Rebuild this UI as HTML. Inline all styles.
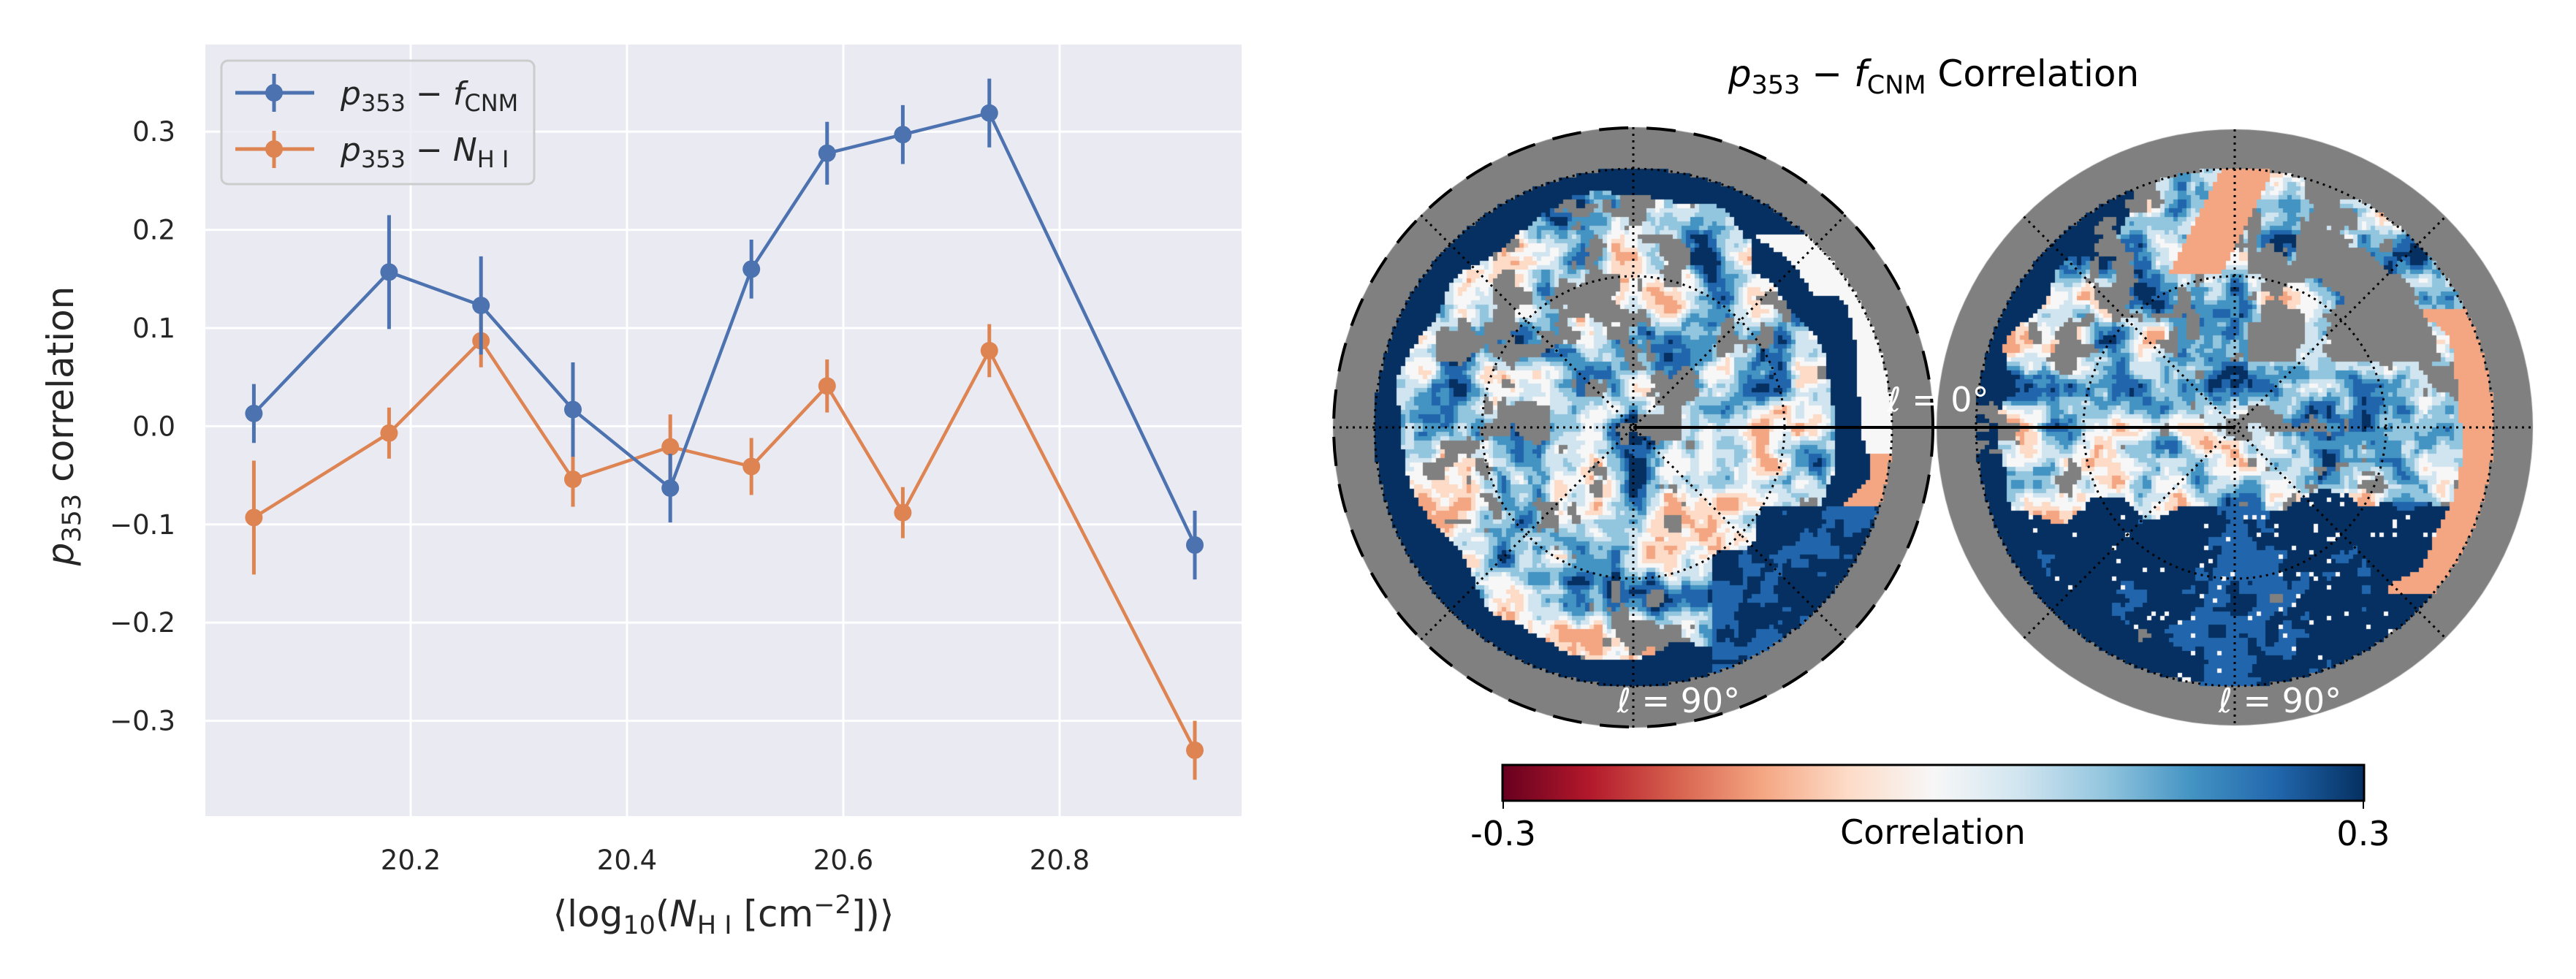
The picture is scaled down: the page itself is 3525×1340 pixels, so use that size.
<!DOCTYPE html>
<html><head><meta charset="utf-8">
<style>
html,body{margin:0;padding:0;background:#fff;}
#wrap{position:relative;width:3525px;height:1340px;overflow:hidden;background:#fff;}
#maps{position:absolute;left:0;top:0;}
#main{position:absolute;left:0;top:0;}
text{font-family:"DejaVu Sans","Liberation Sans",sans-serif;}
</style></head>
<body>
<div id="wrap">
<canvas id="maps" width="3525" height="1340"></canvas>
<svg id="main" width="3525" height="1340" xmlns="http://www.w3.org/2000/svg">
  <rect x="281" y="61" width="1418" height="1056" fill="#eaeaf2"/>
  <g id="grid"></g>
  <g id="ticks"></g>
  <g id="series"></g>
  <g>
    <rect x="303" y="83" width="428" height="169" rx="9" fill="#eaeaf2" fill-opacity="0.8" stroke="#cccccc" stroke-width="3"/>
    <g>
      <line x1="322" y1="127" x2="430" y2="127" stroke="#4c72b0" stroke-width="5"/>
      <line x1="375" y1="101" x2="375" y2="153" stroke="#4c72b0" stroke-width="5"/>
      <circle cx="375" cy="127" r="12" fill="#4c72b0"/>
      <text x="466" y="143" font-size="44" fill="#262626"><tspan font-style="italic">p</tspan><tspan font-size="32" dy="9">353</tspan><tspan dy="-9"> − </tspan><tspan font-style="italic">f</tspan><tspan font-size="32" dy="9">CNM</tspan></text>
    </g>
    <g>
      <line x1="322" y1="204" x2="430" y2="204" stroke="#dd8452" stroke-width="5"/>
      <line x1="375" y1="179" x2="375" y2="230" stroke="#dd8452" stroke-width="5"/>
      <circle cx="375" cy="204" r="12" fill="#dd8452"/>
      <text x="466" y="220" font-size="44" fill="#262626"><tspan font-style="italic">p</tspan><tspan font-size="32" dy="9">353</tspan><tspan dy="-9"> − </tspan><tspan font-style="italic">N</tspan><tspan font-size="32" dy="9">H I</tspan></text>
    </g>
  </g>
  <text x="990" y="1268" font-size="50" text-anchor="middle" fill="#262626">⟨log<tspan font-size="35" dy="10">10</tspan><tspan dy="-10">(</tspan><tspan font-style="italic">N</tspan><tspan font-size="35" dy="10">H I</tspan><tspan dy="-10"> [cm</tspan><tspan font-size="35" dy="-18">−2</tspan><tspan dy="18">])⟩</tspan></text>
  <text transform="translate(100,583) rotate(-90)" font-size="50" text-anchor="middle" fill="#262626"><tspan font-style="italic">p</tspan><tspan font-size="35" dy="10">353</tspan><tspan dy="-10"> correlation</tspan></text>

  <text x="2646" y="118" font-size="50" text-anchor="middle" fill="#000"><tspan font-style="italic">p</tspan><tspan font-size="35" dy="10">353</tspan><tspan dy="-10"> − </tspan><tspan font-style="italic">f</tspan><tspan font-size="35" dy="10">CNM</tspan><tspan dy="-10"> Correlation</tspan></text>
  <g id="overlay"></g>
  <defs>
    <linearGradient id="rdbu" x1="0" x2="1" y1="0" y2="0">
      <stop offset="0" stop-color="#67001f"/><stop offset="0.1" stop-color="#b2182b"/>
      <stop offset="0.2" stop-color="#d6604d"/><stop offset="0.3" stop-color="#f4a582"/>
      <stop offset="0.4" stop-color="#fddbc7"/><stop offset="0.5" stop-color="#f7f7f7"/>
      <stop offset="0.6" stop-color="#d1e5f0"/><stop offset="0.7" stop-color="#92c5de"/>
      <stop offset="0.8" stop-color="#4393c3"/><stop offset="0.9" stop-color="#2166ac"/>
      <stop offset="1" stop-color="#053061"/>
    </linearGradient>
  </defs>
  <rect x="2056" y="1047" width="1179" height="49" fill="url(#rdbu)" stroke="#000" stroke-width="3"/>
  <line x1="2057" y1="1096" x2="2057" y2="1107" stroke="#000" stroke-width="2"/>
  <line x1="3234" y1="1096" x2="3234" y2="1107" stroke="#000" stroke-width="2"/>
  <text x="2057" y="1157" font-size="46" text-anchor="middle">-0.3</text>
  <text x="3234" y="1157" font-size="46" text-anchor="middle">0.3</text>
  <text x="2645" y="1155" font-size="46" text-anchor="middle">Correlation</text>
</svg>
</div>
<script>
// ---- chart data ----
const xVals = [20.055, 20.18, 20.265, 20.35, 20.44, 20.515, 20.585, 20.655, 20.735, 20.925];
const fcnmVals = [0.013, 0.157, 0.123, 0.017, -0.063, 0.16, 0.278, 0.297, 0.319, -0.121];
const fcnmErr = [0.03, 0.058, 0.05, 0.048, 0.035, 0.03, 0.032, 0.03, 0.035, 0.035];
const nhiVals = [-0.093, -0.007, 0.087, -0.054, -0.021, -0.041, 0.041, -0.088, 0.077, -0.33];
const nhiErr = [0.058, 0.026, 0.027, 0.028, 0.033, 0.029, 0.027, 0.026, 0.027, 0.03];
const xTicks = [20.2, 20.4, 20.6, 20.8];
const xTickLabels = ["20.2", "20.4", "20.6", "20.8"];
const yTicks = [-0.3, -0.2, -0.1, 0.0, 0.1, 0.2, 0.3];
const yTickLabels = ["−0.3", "−0.2", "−0.1", "0.0", "0.1", "0.2", "0.3"];

const NS = "http://www.w3.org/2000/svg";
function X(v){ return 562 + (v - 20.2) * 1480; }
function Y(v){ return 583.4 - v * 1344; }
function mk(tag, attrs, parent){ const e = document.createElementNS(NS, tag); for (const k in attrs) e.setAttribute(k, attrs[k]); parent.appendChild(e); return e; }

const grid = document.getElementById('grid'), ticks = document.getElementById('ticks'), series = document.getElementById('series');
xTicks.forEach((t, i) => {
  const l = mk('line', {x1: X(t), x2: X(t), y1: 61, y2: 1117, stroke: '#fff', 'stroke-width': 3}, grid);
  
  
  const tx = mk('text', {x: X(t), y: 1190, 'font-size': 37, 'text-anchor': 'middle', fill: '#262626'}, ticks);
  tx.textContent = xTickLabels[i];
  
  
});
yTicks.forEach((t, i) => {
  const l = mk('line', {x1: 281, x2: 1699, y1: Y(t), y2: Y(t), stroke: '#fff', 'stroke-width': 3}, grid);
  
  
  const tx = mk('text', {x: 240, y: Y(t) + 13, 'font-size': 37, 'text-anchor': 'end', fill: '#262626'}, ticks);
  tx.textContent = yTickLabels[i];
  
  
});
function drawSeries(vals, errs, color, name){
  const g = mk('g', {}, series);
  
  
  const pts = vals.map((v, i) => X(xVals[i]) + ',' + Y(v)).join(' ');
  mk('polyline', {points: pts, fill: 'none', stroke: color, 'stroke-width': 4.5, 'stroke-linejoin': 'round'}, g);
  vals.forEach((v, i) => {
    const eb = mk('line', {x1: X(xVals[i]), x2: X(xVals[i]), y1: Y(v - errs[i]), y2: Y(v + errs[i]), stroke: color, 'stroke-width': 5}, g);
    
    
    const c = mk('circle', {cx: X(xVals[i]), cy: Y(v), r: 12, fill: color}, g);
    
    
  });
}
drawSeries(nhiVals, nhiErr, '#dd8452', 'series-nhi');
drawSeries(fcnmVals, fcnmErr, '#4c72b0', 'series-fcnm');

// ---- maps (texture) ----
const cv = document.getElementById('maps'), ctx = cv.getContext('2d');
function hash(x, y, s){ let h = (x * 374761393 + y * 668265263 + s * 982451653) | 0; h = (h ^ (h >>> 13)) * 1274126177 | 0; h = h ^ (h >>> 16); return ((h >>> 0) % 10000) / 10000; }
function vnoise(x, y, s){ const xi = Math.floor(x), yi = Math.floor(y), fx = x - xi, fy = y - yi;
  const sx = fx*fx*(3-2*fx), sy = fy*fy*(3-2*fy);
  const a = hash(xi,yi,s), b = hash(xi+1,yi,s), c = hash(xi,yi+1,s), d = hash(xi+1,yi+1,s);
  return a + (b-a)*sx + (c-a)*sy + (a-b-c+d)*sx*sy; }
function fbm(x, y, s){ return 0.5*vnoise(x,y,s) + 0.3*vnoise(x*2.3,y*2.3,s+7) + 0.2*vnoise(x*5,y*5,s+13); }
const cmap = ['#67001f','#b2182b','#d6604d','#f4a582','#fddbc7','#f7f7f7','#d1e5f0','#92c5de','#4393c3','#2166ac','#053061'];
function col(v){ let t = (v + 0.3) / 0.6; t = Math.max(0, Math.min(1, t)); return cmap[Math.round(t * 10)]; }
function drawDisc(cx, cy, R, r, seed, right){
  ctx.fillStyle = '#808080'; ctx.beginPath(); ctx.arc(cx, cy, R, 0, 2*Math.PI); ctx.fill();
  const cs = 6;
  for (let y = cy - r; y < cy + r; y += cs) for (let x = cx - r; x < cx + r; x += cs) {
    const dx = (x + cs/2 - cx) / r, dy = (y + cs/2 - cy) / r, rr = Math.sqrt(dx*dx + dy*dy);
    if (rr > 1) continue;
    const n = fbm(dx*6 + 10, dy*6 + 10, seed);
    let v = Math.max(-0.13, 0.08 + (n - 0.5) * 0.75);
    const grayP = fbm(dx*6 + 3, dy*6 + 3, seed + 50);
    let gray = grayP > 0.64;
    const wob = (vnoise(dx*6, dy*6, seed + 90) - 0.5) * 0.12;
    if (!right) {
      if (rr > 0.88 + wob) { v = 0.28; gray = false; }
      if (dx > 0.45 && dy > -0.75 && dy < 0.45) {
        if (rr > 0.9 + wob) v = dy > 0.1 ? -0.12 : -0.02;
        else if (rr > 0.78 + wob) { v = 0.28; gray = false; }
      }
      if (dy > 0.3 && dx > 0.3 && rr > 0.62 + wob) { v = n > 0.55 ? 0.22 : 0.28; gray = false; }
    } else {
      if (dy > 0.3 + wob * 1.5) { v = n > 0.6 ? 0.22 : 0.28; gray = grayP > 0.82; if (hash(x, y, 9) > 0.97) v = 0; }
      if (rr > 0.88 + wob && dx > 0.6 && dy > -0.45 && dy < 0.65) { v = -0.12; gray = false; }
      if (dy < -0.25 && dx > 0.05 && dx < 0.8 && rr < 0.85) gray = grayP > 0.45;
      if (dx + dy*0.5 < -0.35 && dx + dy*0.5 > -0.55 && dy < -0.6) { v = -0.12; gray = false; }
      if (rr > 0.9 + wob && dx < -0.3) v = 0.28;
    }
    ctx.fillStyle = gray ? '#808080' : col(v);
    ctx.fillRect(x, y, cs, cs);
  }
}
drawDisc(2235, 585, 411, 354, 1, false);
drawDisc(3058, 585, 408, 354, 2, true);

// graticule overlay
const ov = document.getElementById('overlay');
function gline(a, parent){ const e = mk('line', Object.assign({stroke: '#000', 'stroke-width': 3, 'stroke-dasharray': '3 6'}, a), parent); return e; }
[[2235, 411], [3058, 408]].forEach(([cx, R], k) => {
  const g = mk('g', {}, ov);
  
  
  [207, 354].forEach(rr => mk('circle', {cx: cx, cy: 585, r: rr, fill: 'none', stroke: '#000', 'stroke-width': 3, 'stroke-dasharray': '3 6'}, g));
  gline({x1: cx - R, x2: cx + R, y1: 585, y2: 585}, g);
  gline({x1: cx, x2: cx, y1: 585 - R, y2: 585 + R}, g);
  const d = R * 0.7071;
  gline({x1: cx - d, x2: cx + d, y1: 585 - d, y2: 585 + d}, g);
  gline({x1: cx - d, x2: cx + d, y1: 585 + d, y2: 585 - d}, g);
  const t = mk('text', {x: cx + 62, y: 975, 'font-size': 46, 'text-anchor': 'middle', fill: '#fff'}, g);
  t.textContent = 'ℓ = 90°';
  
  
});
mk('circle', {cx: 2235, cy: 585, r: 410, fill: 'none', stroke: '#000', 'stroke-width': 4, 'stroke-dasharray': '40 25'}, ov);
mk('line', {x1: 2235, x2: 3058, y1: 585, y2: 585, stroke: '#000', 'stroke-width': 4}, ov);
const l0 = mk('text', {x: 2652, y: 563, 'font-size': 46, 'text-anchor': 'middle', fill: '#fff'}, ov);
l0.textContent = 'ℓ = 0°';


</script>
</body></html>
